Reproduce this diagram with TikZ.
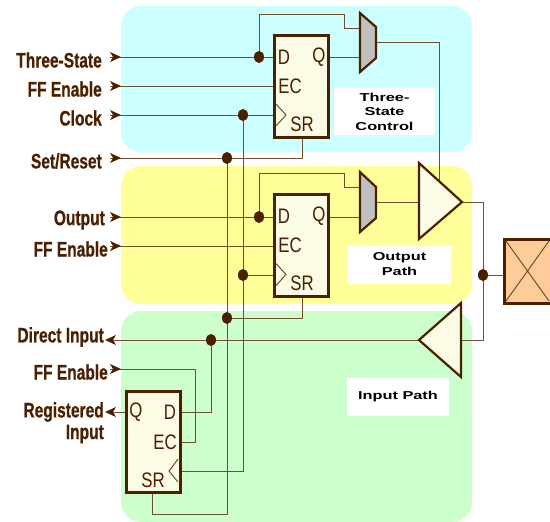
\documentclass[tikz,border=0pt]{standalone}
\usepackage{fontspec}
\setmainfont{Liberation Sans}
\newfontfamily\lblfont[BoldFeatures={FakeBold=0.8}]{Liberation Sans}
\definecolor{ink}{HTML}{4A2000}
\definecolor{wire}{HTML}{6E5030}
\definecolor{blueP}{HTML}{CCFFFF}
\definecolor{yellowP}{HTML}{FFFF99}
\definecolor{greenP}{HTML}{CCFFCC}
\definecolor{cream}{HTML}{FBFBE6}
\definecolor{padc}{HTML}{FFCC99}
\definecolor{muxc}{HTML}{C0C0C0}
\newcommand{\lbl}[1]{\fontsize{21}{21}\selectfont\lblfont\bfseries\scalebox{.74}[1]{#1}}
\newcommand{\pinT}[1]{\fontsize{21}{21}\selectfont\scalebox{.8}[1]{#1}}
\newcommand{\capT}[1]{\fontsize{11.5}{11.5}\selectfont\bfseries\scalebox{1.42}[1]{#1}}
\tikzset{
 panel/.style={rounded corners=20pt,draw=none},
 sig/.style={draw=wire,line width=1pt},
 ffbox/.style={draw=ink,line width=3pt,fill=cream,minimum width=54pt,inner sep=0pt},
 jdot/.style={circle,fill=ink,inner sep=0pt,minimum width=10pt,yscale=1.2},
 sigl/.style={anchor=east,text=ink,inner sep=0pt},
 pinl/.style={text=ink,inner sep=0pt},
 capl/.style={fill=white,text=black,inner sep=0pt,align=center},
 gate/.style={draw=ink,line width=2.2pt,line join=miter},
}
\newcommand{\intip}[1]{\fill[ink] (#1) ++(-11,-5) -- ++(3,5) -- ++(-3,5) -- ++(11,-5) -- cycle;}
\begin{document}
\begin{tikzpicture}[x=1pt,y=-1pt]
\useasboundingbox (0,0) rectangle (550,522);
\fill[white] (0,0) rectangle (550,522);
% panels
\fill[panel,fill=blueP] (121,6) rectangle (472,152);
\fill[panel,fill=yellowP] (121,166) rectangle (472,304);
\fill[panel,fill=greenP] (121,311) rectangle (472,522);
% caption boxes
\node[capl,minimum width=101pt,minimum height=47pt] (capA) at (384.5,111.5) {\capT{Three-}\\[2.5pt]\capT{State}\\[2.5pt]\capT{Control}};
\node[capl,minimum width=103pt,minimum height=38pt] (capB) at (399.5,264.5) {\capT{Output}\\[3pt]\capT{Path}};
\node[capl,minimum width=102pt,minimum height=38pt] (capC) at (398,396.5) {\capT{Input Path}};
% coordinates
\coordinate (inTS) at (121,57);
\coordinate (inFE) at (121,86);
\coordinate (inCk) at (121,115);
\coordinate (inSR) at (121,158);
\coordinate (inO) at (121,217);
\coordinate (inFE2) at (121,246);
\coordinate (inFE3) at (121,369);
% junctions
\coordinate (j1) at (259,57);
\coordinate (j2) at (243,115);
\coordinate (j3) at (227,158);
\coordinate (j4) at (259,217);
\coordinate (j5) at (243,275);
\coordinate (j6) at (227,318);
\coordinate (j7) at (211,340);
\coordinate (j8) at (483,275);
% wires
\draw[sig] (110,57) -- (274,57);
\draw[sig] (110,86) -- (274,86);
\draw[sig] (110,115) -- (274,115);
\draw[sig] (110,158) -- (302,158) -- (302,137);
\draw[sig] (110,217) -- (274,217);
\draw[sig] (110,246) -- (274,246);
\draw[sig] (j1) -- (259,14) -- (344,14) -- (344,28) -- (360,28);
\draw[sig] (329,57) -- (360,57);
\draw[sig] (376,42) -- (439,42) -- (439,185);
\draw[sig] (j4) -- (259,173) -- (344,173) -- (344,187) -- (360,187);
\draw[sig] (329,217) -- (360,217);
\draw[sig] (376,202) -- (419,202);
\draw[sig] (462,202) -- (483,202) -- (483,340) -- (461,340);
\draw[sig] (j8) -- (503,275);
\draw[sig] (j2) -- (243,471) -- (180,471);
\draw[sig] (j5) -- (274,275);
\draw[sig] (j3) -- (227,514) -- (152,514) -- (152,492);
\draw[sig] (j6) -- (302,318) -- (302,296);
\draw[sig] (419,340) -- (108,340);
\draw[sig] (j7) -- (211,412) -- (180,412);
\draw[sig] (110,369) -- (195,369) -- (195,442) -- (180,442);
\draw[sig] (126,412) -- (108,412);
% flip-flops
\node[ffbox,minimum height=102pt] (ff1) at (301.5,86) {};
\node[ffbox,minimum height=102pt] (ff2) at (301.5,245.5) {};
\node[ffbox,minimum height=101pt] (ff3) at (153,441.5) {};
\foreach \f/\y in {ff1/0,ff2/159.5}{
 \node[pinl] at (284,57+\y) {\pinT{D}};
 \node[pinl] at (319,57+\y) {\pinT{Q}};
 \node[pinl] at (290,86+\y) {\pinT{EC}};
 \node[pinl] at (302,124+\y) {\pinT{SR}};
 \draw[wire,line width=1pt] (276,104+\y) -- (286,115+\y) -- (276,126+\y);
}
\node[pinl] at (136,412) {\pinT{Q}};
\node[pinl] at (170,412) {\pinT{D}};
\node[pinl] at (165,442) {\pinT{EC}};
\node[pinl] at (153,480) {\pinT{SR}};
\draw[wire,line width=1pt] (178,459) -- (169,471) -- (178,482);
% muxes
\draw[gate,fill=muxc] (360,13) -- (376,27) -- (376,58) -- (360,72) -- cycle;
\draw[gate,fill=muxc] (360,172) -- (376,187) -- (376,218) -- (360,232) -- cycle;
% buffers
\draw[gate,fill=cream] (419,163) -- (462,202) -- (419,239) -- cycle;
\draw[gate,fill=cream] (461,303) -- (419,340) -- (461,377) -- cycle;
% pad
\fill[padc] (504,239) rectangle (550,303);
\draw[ink,line width=3pt] (551,239.5) -- (504,239.5) -- (504,303) -- (551,303);
\draw[wire,line width=1pt] (506,241) -- (549,301) (549,241) -- (506,301);
% dots
\foreach \c in {j1,j2,j3,j4,j5,j6,j7,j8}{\node[jdot] at (\c) {};}
% arrow tips
\foreach \c in {inTS,inFE,inCk,inSR,inO,inFE2,inFE3}{\intip{\c}}
\fill[ink] (105,340) -- ++(11,-5) -- ++(-3,5) -- ++(3,5) -- cycle;
\fill[ink] (105,412) -- ++(11,-5) -- ++(-3,5) -- ++(3,5) -- cycle;
% labels
\node[sigl] at (102,60) {\lbl{Three-State}};
\node[sigl] at (102,89) {\lbl{FF Enable}};
\node[sigl] at (102,118) {\lbl{Clock}};
\node[sigl] at (102,161) {\lbl{Set/Reset}};
\node[sigl] at (105,220) {\lbl{Output}};
\node[sigl] at (108,249) {\lbl{FF Enable}};
\node[sigl] at (104,337) {\lbl{Direct Input}};
\node[sigl] at (108,372) {\lbl{FF Enable}};
\node[sigl] at (104,412) {\lbl{Registered}};
\node[sigl] at (104,434) {\lbl{Input}};
\end{tikzpicture}
\end{document}
